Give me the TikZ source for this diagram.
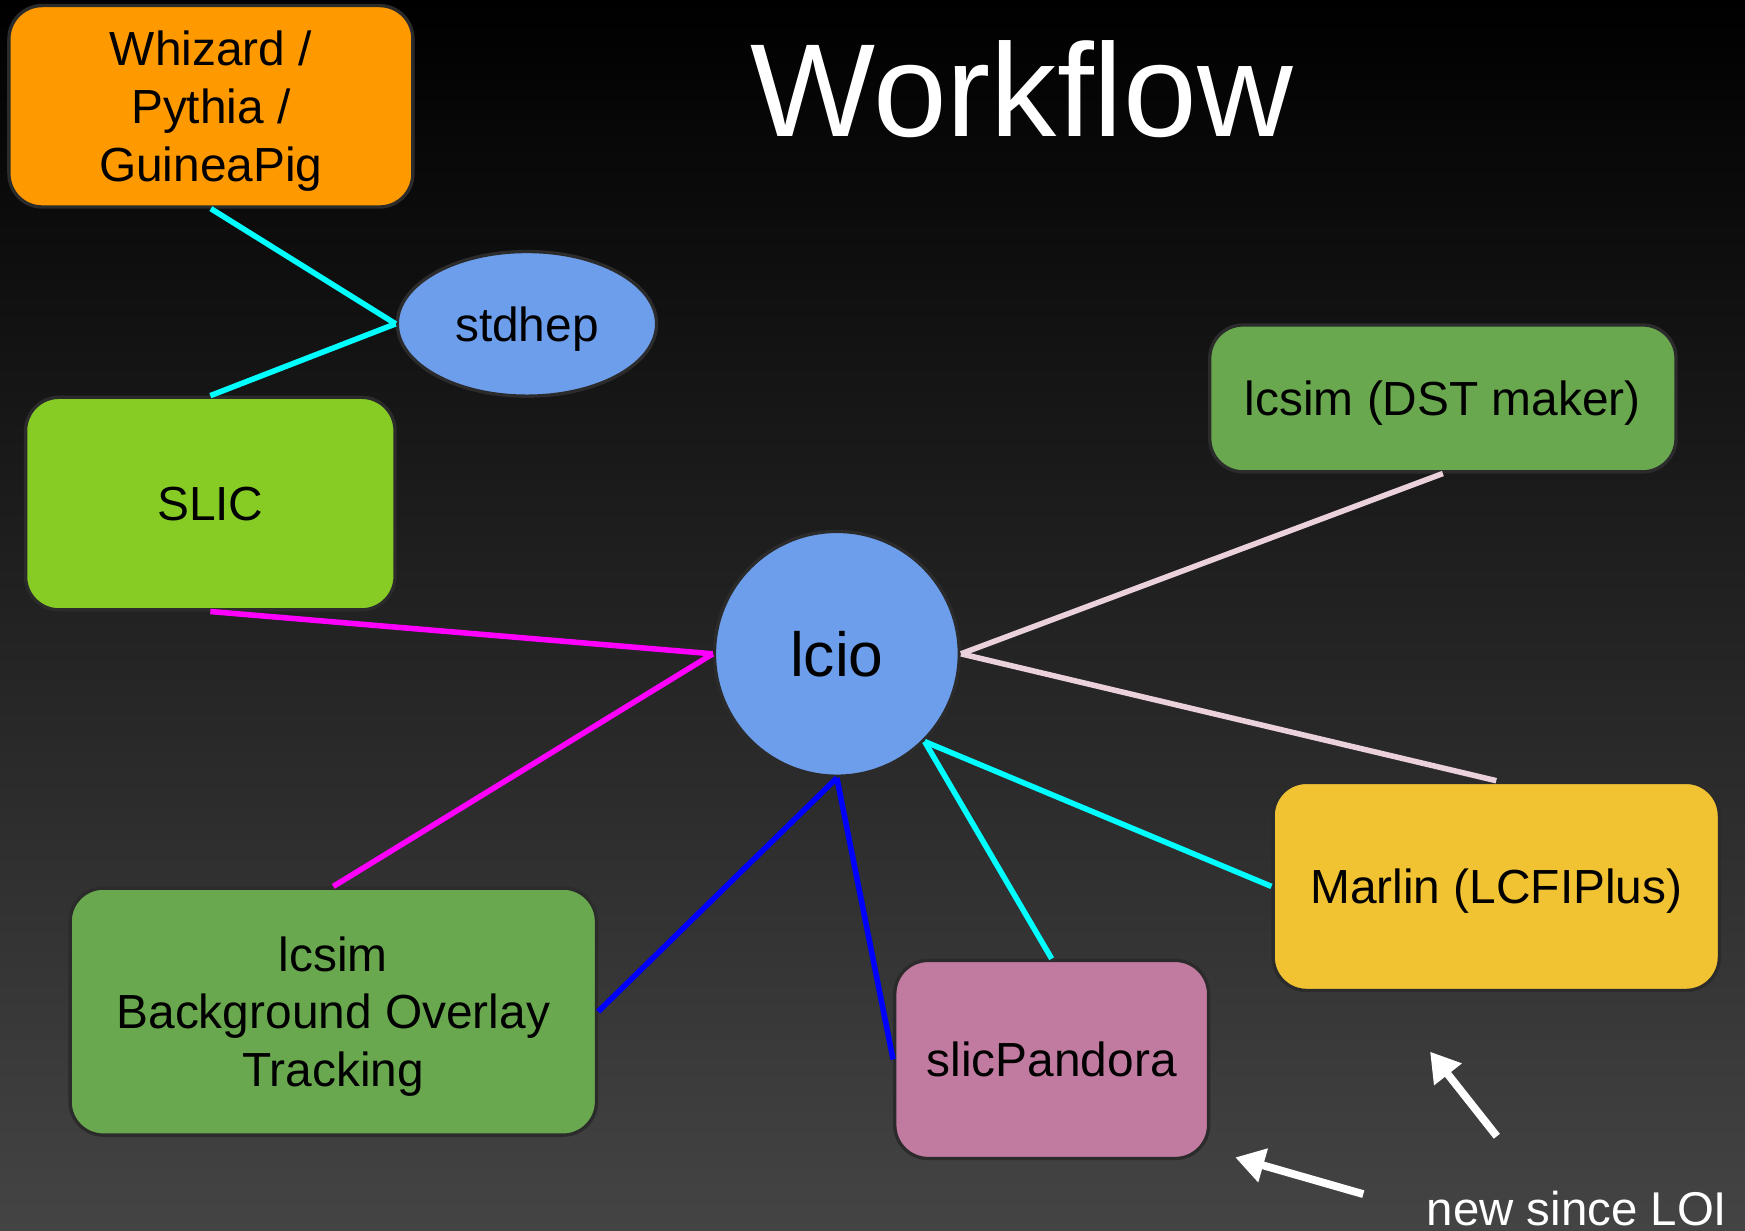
\documentclass[tikz,border=0pt]{standalone}
\usepackage{fontspec}
\setmainfont{Liberation Sans}
\usepackage{xcolor}
\usetikzlibrary{positioning, arrows.meta, shapes.geometric}

\definecolor{genorange}{HTML}{FF9900}
\definecolor{slicgreen}{HTML}{87CC24}
\definecolor{lcsimgreen}{HTML}{6AA84F}
\definecolor{lcioblue}{HTML}{6D9EEB}
\definecolor{marlinyellow}{HTML}{F1C232}
\definecolor{pandorapink}{HTML}{C27BA0}
\definecolor{boxborder}{HTML}{2B2B2B}
\definecolor{lightpink}{HTML}{EAD1DC}
\definecolor{linkcyan}{HTML}{00FFFF}
\definecolor{linkmagenta}{HTML}{FF00FF}
\definecolor{linkblue}{HTML}{0000FF}
\definecolor{bgbottom}{HTML}{444444}

\begin{document}
\begin{tikzpicture}[x=0.5pt, y=-0.5pt]
    % Block style
    \tikzstyle{block} = [rectangle, rounded corners=15pt, draw=boxborder, line width=1.5pt, align=center, inner sep=0pt, text depth=0pt, font=\fontsize{21.5}{26}\selectfont]
    \tikzstyle{link} = [line width=2.5pt]
    \tikzstyle{newarrow} = [white, line width=3.5pt, -{Triangle[width=15pt, length=13pt]}]

    % Background
    \shade[top color=black, bottom color=bgbottom] (0,0) rectangle (1568,1106);
    \useasboundingbox (0,0) rectangle (1568,1106);

    % Title
    \node[white, anchor=base, font=\fontsize{59.5}{70}\selectfont] (title) at (918,123) {Workflow};

    % Generators and SLIC (left)
    \node[block, fill=genorange, minimum width=181.5pt, minimum height=90.5pt] (generators) at (189.5,95.5) {Whizard /\\Pythia /\\GuineaPig};
    \node[ellipse, draw=boxborder, line width=1.5pt, fill=lcioblue, minimum width=116.5pt, minimum height=65pt, inner sep=0pt, text depth=0pt, font=\fontsize{21.5}{26}\selectfont] (stdhep) at (473.5,291) {stdhep};
    \node[block, fill=slicgreen, minimum width=166pt, minimum height=95.5pt] (slic) at (189,452.5) {SLIC};

    % lcio in the middle
    \node[circle, draw=boxborder, line width=1.5pt, fill=lcioblue, minimum size=110pt, inner sep=0pt, font=\fontsize{28}{34}\selectfont] (lcio) at (752,587.5) {lcio};

    % Reconstruction and analysis
    \node[block, fill=lcsimgreen, minimum width=209.5pt, minimum height=66pt] (dst_maker) at (1296.5,358) {lcsim (DST maker)};
    \node[block, fill=marlinyellow, minimum width=200.5pt, minimum height=93.5pt] (marlin) at (1344.5,796.5) {Marlin (LCFIPlus)};
    \node[block, fill=lcsimgreen, minimum width=236.5pt, minimum height=111pt] (overlay) at (299.5,909) {lcsim\\Background Overlay\\Tracking};
    \node[block, fill=pandorapink, minimum width=141pt, minimum height=89pt] (pandora) at (945,952) {slicPandora};

    % Connections
    \draw[link, linkcyan] (generators.south) -- (stdhep.west);
    \draw[link, linkcyan] (stdhep.west) -- (slic.north);
    \draw[link, linkmagenta] (slic.south) -- (lcio.west);
    \draw[link, linkmagenta] (lcio.west) -- (overlay.north);
    \draw[link, linkblue] (lcio.south) -- (overlay.east);
    \draw[link, linkblue] (lcio.south) -- (pandora.west);
    \draw[link, linkcyan] (lcio.south east) -- (pandora.north);
    \draw[link, linkcyan] (lcio.south east) -- (marlin.west);
    \draw[link, lightpink] (lcio.east) -- (dst_maker.south);
    \draw[link, lightpink] (lcio.east) -- (marlin.north);

    % New since LOI
    \node[white, anchor=base, font=\fontsize{21.3}{26}\selectfont] (new_note) at (1417,1101) {new since LOI};
    \coordinate (pandora_arrow_tail) at (1225,1073);
    \coordinate (pandora_arrow_tip) at (1110,1040);
    \coordinate (marlin_arrow_tail) at (1345,1021);
    \coordinate (marlin_arrow_tip) at (1285,945);
    \draw[newarrow] (pandora_arrow_tail) -- (pandora_arrow_tip);
    \draw[newarrow] (marlin_arrow_tail) -- (marlin_arrow_tip);
\end{tikzpicture}
\end{document}
